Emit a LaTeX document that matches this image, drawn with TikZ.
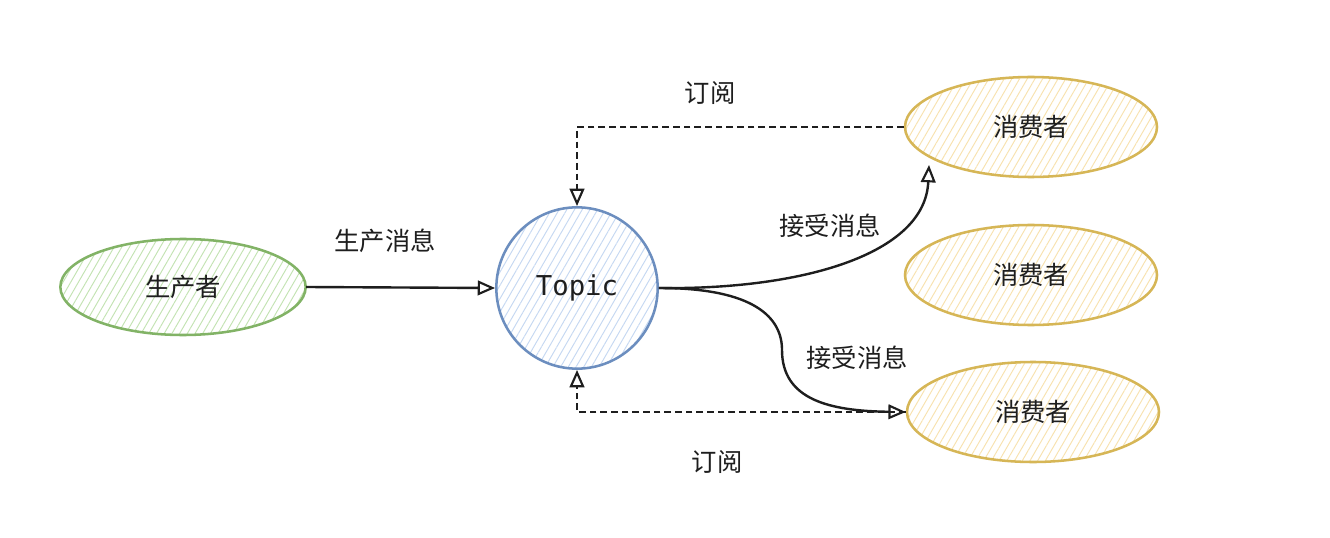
\documentclass[tikz,border=0pt]{standalone}
\usepackage{fontspec}
\setmainfont{Noto Sans CJK SC}
\newfontfamily\topicfont{DejaVu Sans Mono}
\usetikzlibrary{arrows.meta,patterns.meta,calc,shapes.geometric}
\definecolor{gstroke}{HTML}{82B366}
\definecolor{ghatch}{HTML}{C3E3B2}
\definecolor{bstroke}{HTML}{6C8EBF}
\definecolor{bhatch}{HTML}{C5D8F2}
\definecolor{ystroke}{HTML}{D6B656}
\definecolor{yhatch}{HTML}{F8E2AE}
\definecolor{ink}{HTML}{1E1E1E}
\tikzset{
  txt/.style={font=\fontsize{19}{22}\selectfont, text=ink},
  blob/.style={ellipse, line width=1.9pt, txt, inner sep=0pt},
  prod/.style={blob, draw=gstroke, pattern={Lines[angle=60,distance=5pt,line width=0.7pt]}, pattern color=ghatch, minimum width=184pt, minimum height=72pt},
  cons/.style={blob, draw=ystroke, pattern={Lines[angle=60,distance=5pt,line width=0.7pt]}, pattern color=yhatch, minimum width=189pt, minimum height=75pt},
  topicnode/.style={circle, line width=1.9pt, draw=bstroke, pattern={Lines[angle=60,distance=5pt,line width=0.7pt]}, pattern color=bhatch, minimum size=121pt, inner sep=0pt, font=\topicfont\fontsize{20.5}{24}\selectfont, text=ink},
  conn/.style={line width=1.8pt, draw=ink, -{Triangle[open,length=13pt,width=11pt,line width=1.6pt]}},
  sub/.style={conn, dash pattern=on 5pt off 3pt},
  lbl/.style={txt}
}
\begin{document}
\begin{tikzpicture}[x=0.75pt,y=-0.75pt]
\useasboundingbox[fill=white] (0,0) rectangle (1330,538);
\node[prod] (prod) at (183,287) {生产者};
\node[topicnode] (topic) at (577,288) {Topic};
\node[cons] (c1) at (1031,127) {消费者};
\node[cons] (c2) at (1031,275) {消费者};
\node[cons] (c3) at (1033,412) {消费者};

\draw[conn] (prod.east) -- (topic.west);
\draw[sub] (c1.west) -| (topic.north);
\draw[sub] (c3.west) -| (topic.south);
\coordinate (c1in) at (929,165);
\draw[conn] (topic.east) .. controls (800,290) and (925,255) .. (c1in);
\draw[conn] (topic.east) .. controls (755,288) and (782,318) .. (782,350) .. controls (782,400) and (830,411) .. (c3.west);

\node[lbl] (l1) at (385,241) {生产消息};
\node[lbl] (l2) at (710,93) {订阅};
\node[lbl] (l3) at (717,462) {订阅};
\node[lbl] (l4) at (830,226) {接受消息};
\node[lbl] (l5) at (857,358) {接受消息};
\end{tikzpicture}
\end{document}
